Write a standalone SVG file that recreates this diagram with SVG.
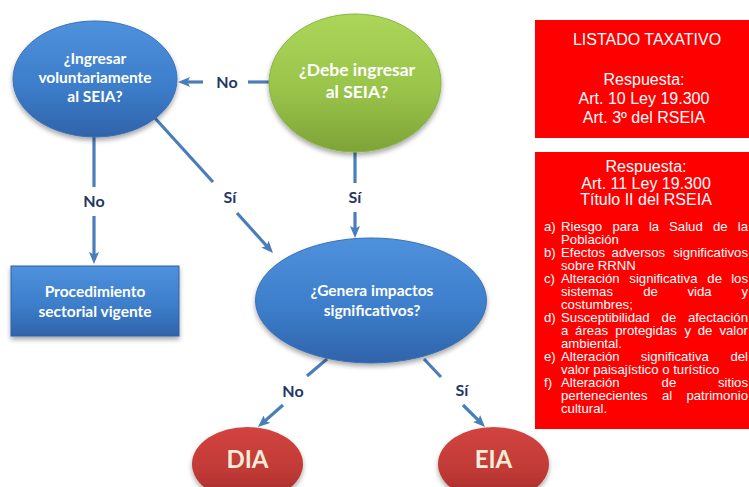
<svg xmlns="http://www.w3.org/2000/svg" width="749" height="487" viewBox="0 0 749 487">
<style>
.node{font-family:Lato,"Open Sans","Liberation Sans",sans-serif;font-weight:bold;fill:#ffffff;text-anchor:middle}
.term{fill:#f4ecd8}
.lbl{font-family:Lato,"Open Sans","Liberation Sans",sans-serif;font-weight:bold;fill:#1f3864;font-size:16px;text-anchor:middle}
.conn{stroke:#4a7ebb;stroke-width:3.2;fill:none}
.box{font-family:"Liberation Sans",Arial,sans-serif;fill:#ffffff}
.t16{font-size:16px;text-anchor:middle}
.li{font-size:13.2px}
</style>
<defs>
<marker id="arr" viewBox="0 0 12 10" refX="8" refY="5" markerWidth="12" markerHeight="10" markerUnits="userSpaceOnUse" orient="auto">
<path d="M0,0 L12,5 L0,10 L2.5,5 Z" fill="#4a7ebb"/>
</marker>
<linearGradient id="gBlue" x1="0" y1="0" x2="0" y2="1">
<stop offset="0" stop-color="#4f91dc"/>
<stop offset="0.55" stop-color="#3d7ecb"/>
<stop offset="1" stop-color="#2f63aa"/>
</linearGradient>
<linearGradient id="gGreen" x1="0" y1="0" x2="0" y2="1">
<stop offset="0" stop-color="#acd65a"/>
<stop offset="0.55" stop-color="#99c44a"/>
<stop offset="1" stop-color="#7ea338"/>
</linearGradient>
<linearGradient id="gRed" x1="0" y1="0" x2="0" y2="1">
<stop offset="0" stop-color="#d2443f"/>
<stop offset="0.6" stop-color="#c03a36"/>
<stop offset="1" stop-color="#a12a2a"/>
</linearGradient>
<filter id="sh" x="-20%" y="-20%" width="140%" height="150%">
<feGaussianBlur in="SourceAlpha" stdDeviation="2.5"/>
<feOffset dx="0" dy="3" result="b"/>
<feComponentTransfer><feFuncA type="linear" slope="0.35"/></feComponentTransfer>
<feMerge><feMergeNode/><feMergeNode in="SourceGraphic"/></feMerge>
</filter>
</defs>
<rect width="749" height="487" fill="#ffffff"/>

<g id="connectors">
<line class="conn" x1="269" y1="82" x2="248" y2="82"/>
<line class="conn" x1="203" y1="82" x2="182" y2="82" marker-end="url(#arr)"/>
<line class="conn" x1="94" y1="137" x2="94" y2="187"/>
<line class="conn" x1="94" y1="216" x2="94" y2="260" marker-end="url(#arr)"/>
<line class="conn" x1="154" y1="117" x2="213" y2="182"/>
<line class="conn" x1="237" y1="213" x2="270.3" y2="250" marker-end="url(#arr)"/>
<line class="conn" x1="355" y1="152" x2="355" y2="183"/>
<line class="conn" x1="355" y1="212" x2="355" y2="234" marker-end="url(#arr)"/>
<line class="conn" x1="327" y1="359" x2="307" y2="376"/>
<line class="conn" x1="283" y1="405" x2="261" y2="424.4" marker-end="url(#arr)"/>
<line class="conn" x1="424" y1="359" x2="441" y2="377"/>
<line class="conn" x1="463" y1="405" x2="482.2" y2="424.2" marker-end="url(#arr)"/>
<text class="lbl" x="227" y="88">No</text>
<text class="lbl" x="94" y="207">No</text>
<text class="lbl" x="230" y="203">Sí</text>
<text class="lbl" x="355" y="203">Sí</text>
<text class="lbl" x="293" y="397">No</text>
<text class="lbl" x="462" y="396">Sí</text>
</g>

<g id="voluntario">
<ellipse cx="95" cy="79" rx="82" ry="58" fill="url(#gBlue)" stroke="#3a70b5" stroke-width="1" filter="url(#sh)"/>
<text class="node" font-size="15.5" x="95" y="64">¿Ingresar</text>
<text class="node" font-size="15.5" x="95" y="83">voluntariamente</text>
<text class="node" font-size="15.5" x="95" y="102">al SEIA?</text>
</g>

<g id="debe">
<ellipse cx="355" cy="83" rx="86" ry="69" fill="url(#gGreen)" stroke="#8ab544" stroke-width="1" filter="url(#sh)"/>
<text class="node" font-size="17.5" x="357" y="76">¿Debe ingresar</text>
<text class="node" font-size="17.5" x="357" y="98">al SEIA?</text>
</g>

<g id="procedimiento">
<rect x="11" y="266" width="168" height="70" fill="url(#gBlue)" stroke="#2f62a8" stroke-width="1" filter="url(#sh)"/>
<text class="node" font-size="15.5" x="95" y="297">Procedimiento</text>
<text class="node" font-size="15.5" x="95" y="317">sectorial vigente</text>
</g>

<g id="genera">
<ellipse cx="371" cy="300.5" rx="115.5" ry="62.5" fill="url(#gBlue)" stroke="#3a70b5" stroke-width="1" filter="url(#sh)"/>
<text class="node" font-size="15.5" x="372" y="296">¿Genera impactos</text>
<text class="node" font-size="15.5" x="372" y="316">significativos?</text>
</g>

<g id="dia">
<ellipse cx="247.5" cy="464" rx="55.5" ry="37" fill="url(#gRed)" filter="url(#sh)"/>
<text class="node term" font-size="24" x="247.5" y="468">DIA</text>
</g>

<g id="eia">
<ellipse cx="493.5" cy="464" rx="55.5" ry="37" fill="url(#gRed)" filter="url(#sh)"/>
<text class="node term" font-size="24" x="493.5" y="468">EIA</text>
</g>

<g id="listado">
<rect x="535" y="20" width="214" height="118" fill="#ff0000"/>
<text class="box t16" x="647" y="45">LISTADO TAXATIVO</text>
<text class="box t16" x="644" y="85">Respuesta:</text>
<text class="box t16" x="644" y="104">Art. 10 Ley 19.300</text>
<text class="box t16" x="644" y="123">Art. 3º del RSEIA</text>
</g>

<g id="respuesta">
<rect x="535" y="152" width="214" height="277" fill="#ff0000"/>
<text class="box t16" x="646" y="172">Respuesta:</text>
<text class="box t16" x="646" y="188.5">Art. 11 Ley 19.300</text>
<text class="box t16" x="646" y="205">Título II del RSEIA</text>
<g class="box li">
<text x="544" y="231">a)</text>
<text y="231"><tspan x="561">Riesgo</tspan><tspan x="612.4">para</tspan><tspan x="648.9">la</tspan><tspan x="669">Salud</tspan><tspan x="713">de</tspan></text>
<text x="748" y="231" text-anchor="end">la</text>
<text x="561" y="244">Población</text>
<text x="544" y="257">b)</text>
<text x="561" y="257">Efectos</text><text x="611.6" y="257">adversos</text>
<text x="748" y="257" text-anchor="end">significativos</text>
<text x="561" y="270">sobre RRNN</text>
<text x="544" y="283">c)</text>
<text x="561" y="283">Alteración</text><text x="629.3" y="283">significativa</text><text x="707.3" y="283">de</text>
<text x="748" y="283" text-anchor="end">los</text>
<text x="561" y="296">sistemas</text><text x="643.2" y="296">de</text><text x="687.4" y="296">vida</text>
<text x="748" y="296" text-anchor="end">y</text>
<text x="561" y="309">costumbres;</text>
<text x="544" y="322">d)</text>
<text x="561" y="322">Susceptibilidad</text><text x="661.6" y="322">de</text>
<text x="748" y="322" text-anchor="end">afectación</text>
<text y="335"><tspan x="561">a</tspan><tspan x="575.1">áreas</tspan><tspan x="615.2">protegidas</tspan><tspan x="684.4">y</tspan><tspan x="697.7">de</tspan></text>
<text x="748" y="335" text-anchor="end">valor</text>
<text x="561" y="348">ambiental.</text>
<text x="544" y="361">e)</text>
<text x="561" y="361">Alteración</text><text x="640.7" y="361">significativa</text>
<text x="748" y="361" text-anchor="end">del</text>
<text x="561" y="374">valor paisajístico o turístico</text>
<text x="544" y="387">f)</text>
<text x="561" y="387">Alteración</text><text x="661.6" y="387">de</text>
<text x="748" y="387" text-anchor="end">sitios</text>
<text x="561" y="400">pertenecientes</text><text x="662" y="400">al</text>
<text x="748" y="400" text-anchor="end">patrimonio</text>
<text x="561" y="413">cultural.</text>
</g>
</g>
</svg>
